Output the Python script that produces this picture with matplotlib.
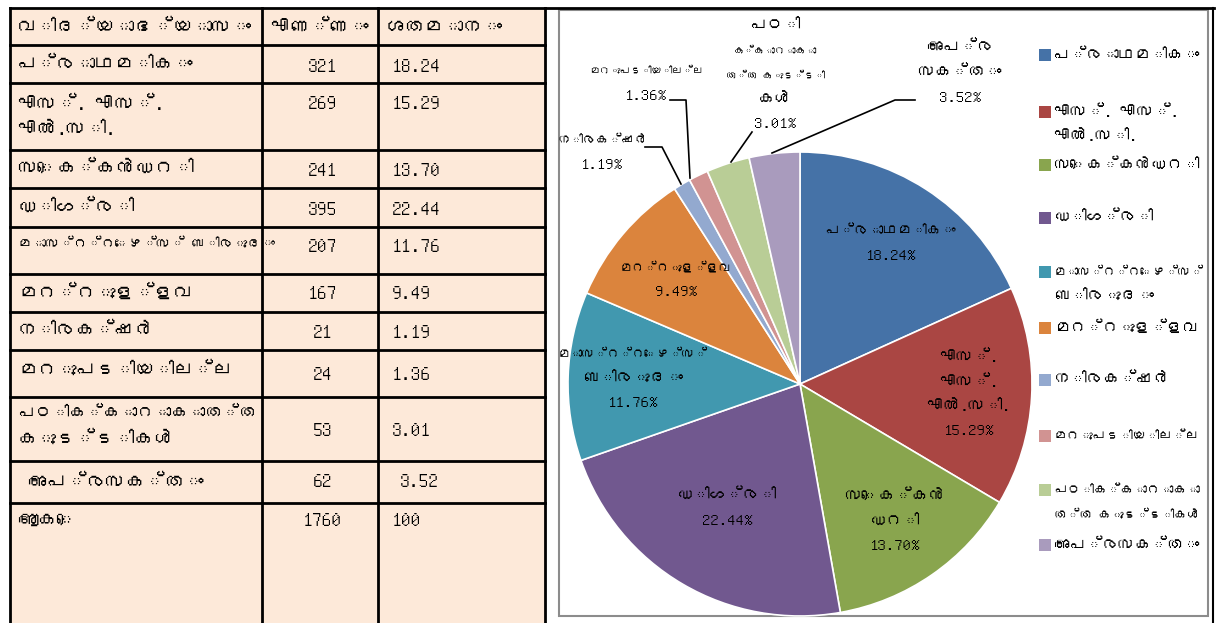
import numpy as np
import matplotlib
matplotlib.use('Agg')
from matplotlib import pyplot as plt
from matplotlib import font_manager
from matplotlib.ft2font import FT2Font
from matplotlib.patches import Rectangle

# Look for any installed family that can draw Malayalam
families = []
for path in font_manager.findSystemFonts():
    try:
        cmap = FT2Font(path).get_charmap()
    except Exception:
        continue
    if 0x0D15 in cmap:
        name = font_manager.FontProperties(fname=path).get_name()
        if name not in families:
            families.append(name)
plt.rcParams['font.family'] = families + ['Noto Sans', 'DejaVu Sans']

# Table data
categories = ['പ്രാഥമികം', 'എസ്. എസ്.\nഎൽ.സി.', 'സെക്കൻഡറി', 'ഡിഗ്രി',
              'മാസ്റ്റേഴ്സ് ബിരുദം', 'മറ്റുള്ളവ', 'നിരക്ഷർ', 'മറുപടിയില്ല',
              'പഠിക്കാറാകാത്ത\nകുട്ടികൾ', 'അപ്രസക്തം']
counts = [321, 269, 241, 395, 207, 167, 21, 24, 53, 62]
percents = ['18.24', '15.29', '13.70', '22.44', '11.76', '9.49', '1.19', '1.36', '3.01', '3.52']
headers = ['വിദ്യാഭ്യാസം', 'എണ്ണം', 'ശതമാനം']
total_label = 'ആകെ'
total_count = 1760
total_pct = '100'

# Pie labels / legend labels
pie_names = ['പ്രാഥമികം', 'എസ്.\nഎസ്.\nഎൽ.സി.', 'സെക്കൻ\nഡറി', 'ഡിഗ്രി',
             'മാസ്റ്റേഴ്സ്\nബിരുദം', 'മറ്റുള്ളവ', 'നിരക്ഷർ', 'മറുപടിയില്ല',
             'പഠി\nക്കാറാകാ\nത്ത കുട്ടി\nകൾ', 'അപ്ര\nസക്തം']
legend_names = ['പ്രാഥമികം', 'എസ്. എസ്.\nഎൽ.സി.', 'സെക്കൻഡറി', 'ഡിഗ്രി',
                'മാസ്റ്റേഴ്സ്\nബിരുദം', 'മറ്റുള്ളവ', 'നിരക്ഷർ', 'മറുപടിയില്ല',
                'പഠിക്കാറാകാ\nത്ത കുട്ടികൾ', 'അപ്രസക്തം']
colors = ['#4572A7', '#AA4643', '#89A54E', '#71588F', '#4198AF',
          '#DB843D', '#93A9CF', '#D19392', '#B9CD96', '#A99BBD']

W, H = 1219, 623
fig = plt.figure(figsize=(W / 100, H / 100), dpi=100)
renderer = fig.canvas.get_renderer()


def fit_text(ax, x, y, s, max_w, fs, min_fs=8, **kw):
    # matplotlib draws Malayalam without shaping, so narrow it to fit its space
    t = ax.text(x, y, s, fontsize=fs, **kw)
    w = t.get_window_extent(renderer).width
    if w > max_w:
        t.set_fontsize(max(min_fs, fs * max_w / w))
    return t


def draw_lines(ax, x, y_first, lines, lh, max_w, fs, min_fs=8, **kw):
    for k, line in enumerate(lines):
        fit_text(ax, x, y_first + k * lh, line, max_w, fs, min_fs, va='center', **kw)


def pixel_axes():
    a = fig.add_axes([0, 0, 1, 1])
    a.set_xlim(0, W)
    a.set_ylim(H, 0)
    a.axis('off')
    return a


# Background axes in pixel coordinates
bg = pixel_axes()

# ---- Table ----
col_x = [10, 262, 378, 545]
row_y = [8, 45, 83, 150, 188, 227, 274, 312, 350, 397, 461, 503, 623]
bg.add_patch(Rectangle((col_x[0], row_y[0]), col_x[-1] - col_x[0], row_y[-1] - row_y[0],
                       facecolor='#FDE9D9', edgecolor='none'))
for y in row_y[:-1]:
    bg.plot([col_x[0], col_x[-1]], [y, y], color='black', lw=2)
for x in col_x:
    bg.plot([x, x], [row_y[0], row_y[-1]], color='black', lw=2)
# top rule continues across the chart area
bg.plot([col_x[-1], 1214], [8, 8], color='black', lw=2)
bg.plot([1213, 1213], [8, H], color='black', lw=1.5)

fs = 14
fit_text(bg, 18, 27, headers[0], 238, fs, va='center', fontweight='bold')
fit_text(bg, 320, 27, headers[1], 108, fs, va='center', ha='center', fontweight='bold')
fit_text(bg, 386, 27, headers[2], 152, fs, va='center', fontweight='bold')

cat_y = [64, 103, 168, 207, 244, 292, 330, 370, 413, 482]
num_y = [66, 103, 170, 209, 246, 293, 332, 374, 430, 481]
for i, cat in enumerate(categories):
    x0 = 28 if i == len(categories) - 1 else 18
    draw_lines(bg, x0, cat_y[i], cat.split('\n'), 26, 238, fs, 10)
    bg.text(322, num_y[i], str(counts[i]), fontsize=14, va='center', ha='center')
    px = 400 if i == len(categories) - 1 else 392
    bg.text(px, num_y[i], percents[i], fontsize=14, va='center')
fit_text(bg, 18, 520, total_label, 120, fs, va='center', fontweight='bold')
bg.text(322, 520, str(total_count), fontsize=14, fontweight='bold', va='center', ha='center')
bg.text(392, 520, total_pct, fontsize=14, fontweight='bold', va='center')

# ---- Chart frame ----
bg.add_patch(Rectangle((559, 10), 1208 - 559, 606, facecolor='white',
                       edgecolor='#8C8C8C', lw=1.5))

# ---- Pie ----
cx, cy, r = 800, 384, 232
ax = fig.add_axes([(cx - r) / W, (H - cy - r) / H, 2 * r / W, 2 * r / H])
wedges, _ = ax.pie(counts, colors=colors, startangle=90, counterclock=False,
                   wedgeprops=dict(edgecolor='white', linewidth=1.2))
ax.set_xlim(-1, 1)
ax.set_ylim(-1, 1)
ax.axis('off')

# overlay for labels, leader lines and legend
top = pixel_axes()

lh = 24.5
inside = {0: 0.72, 1: 0.73, 2: 0.72, 3: 0.62, 4: 0.72, 5: 0.70}
inside_w = {0: 130, 1: 100, 2: 110, 3: 110, 4: 125, 5: 105}
for i, w in enumerate(wedges):
    if i not in inside:
        continue
    ang = np.deg2rad((w.theta1 + w.theta2) / 2)
    d = inside[i]
    px = cx + d * r * np.cos(ang)
    py = cy - d * r * np.sin(ang)
    lines = pie_names[i].split('\n') + [percents[i] + '%']
    y0 = py - (len(lines) - 1) * lh / 2
    draw_lines(top, px, y0, lines, lh, inside_w[i], 12, 9, ha='center')

# outside labels with leader lines (pixel coordinates)
outside = {
    6: ((602, 152), 90, [(645, 147), (662, 147), (681, 184)]),
    7: ((646, 83), 112, [(670, 100), (686, 100), (690, 178)]),
    8: ((775, 75), 80, [(752, 132), (731, 162)]),
    9: ((960, 73), 100, [(915, 100), (895, 100), (772, 153)]),
}
for i, (pos, mw, pts) in outside.items():
    lines = pie_names[i].split('\n') + [percents[i] + '%']
    y0 = pos[1] - (len(lines) - 1) * lh / 2
    draw_lines(top, pos[0], y0, lines, lh, mw, 12, 7.5, ha='center')
    xs, ys = zip(*pts)
    top.plot(xs, ys, color='black', lw=1.2)

# ---- Legend ----
leg_y = [55, 112, 165, 218, 272, 328, 380, 436, 490, 545]
for i, name in enumerate(legend_names):
    top.add_patch(Rectangle((1039, leg_y[i] - 6), 12, 12, facecolor=colors[i],
                            edgecolor='none'))
    draw_lines(top, 1054, leg_y[i], name.split('\n'), 24, 145, 12, 9)

fig.savefig('out.png', dpi=100)
